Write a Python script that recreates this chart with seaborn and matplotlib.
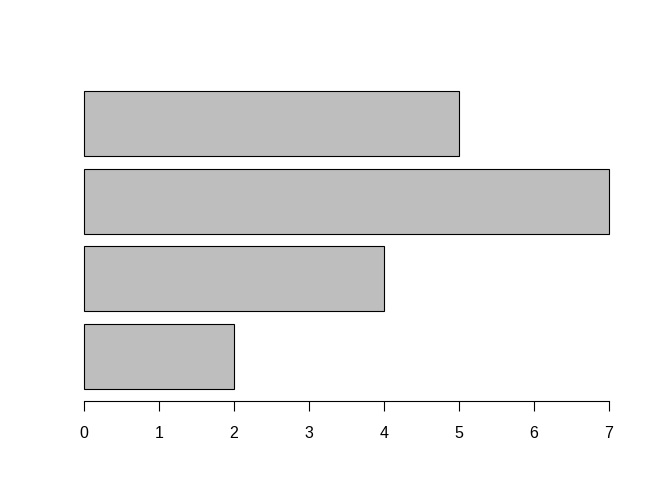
import matplotlib
matplotlib.use("Agg")
import matplotlib.pyplot as plt
import seaborn as sns
import pandas as pd

# bars listed top to bottom
categories = ["D", "C", "B", "A"]
values = [5, 7, 4, 2]
x_ticks = [0, 1, 2, 3, 4, 5, 6, 7]

sns.set_style("white")
plt.rcParams["font.family"] = ["Liberation Sans", "DejaVu Sans"]

df = pd.DataFrame({"cat": categories, "val": values})

fig = plt.figure(figsize=(6.5, 5), dpi=100)
ax = fig.add_axes([63 / 650, 1 - 401 / 500, (630 - 63) / 650, (401 - 79) / 500])

sns.barplot(data=df, x="val", y="cat", order=categories, orient="h",
            color="#bebebe", saturation=1, width=1 / 1.2,
            edgecolor="black", linewidth=0.8, ax=ax)

half = 0.5 / 1.2
lo, hi = -half, len(categories) - 1 + half
pad = 0.04 * (hi - lo)
ax.set_ylim(hi + pad, lo - pad)
ax.set_xlim(-0.04 * 7, 7 * 1.04)

ax.set_xticks(x_ticks)
ax.set_xticklabels([str(t) for t in x_ticks], fontsize=11.5, color="black")
ax.set_yticks([])
ax.set_xlabel("")
ax.set_ylabel("")
for s in ["left", "top", "right"]:
    ax.spines[s].set_visible(False)
ax.spines["bottom"].set_bounds(0, 7)
ax.spines["bottom"].set_color("black")
ax.spines["bottom"].set_linewidth(0.8)
ax.tick_params(axis="x", bottom=True, length=7, width=0.8, color="black", pad=11)

fig.savefig("out.png", dpi=100)
